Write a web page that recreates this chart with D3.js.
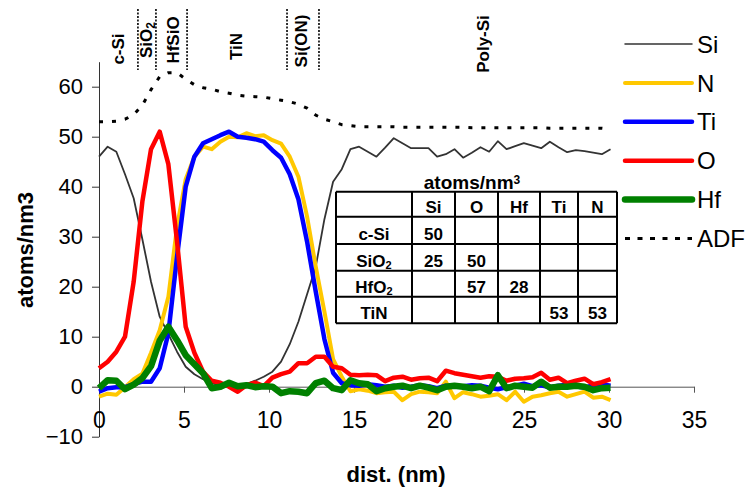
<!DOCTYPE html>
<html>
<head>
<meta charset="utf-8">
<script src="https://cdn.jsdelivr.net/npm/d3@7/dist/d3.min.js"></script>
<style>
  body { margin: 0; background: #fff; }
  text { font-family: "Liberation Sans", Arial, sans-serif; fill: #000; }
</style>
</head>
<body>
<script>
// depth profile across the gate stack
var dist = [0,0.51,1.02,1.53,2.04,2.55,3.06,3.57,4.08,4.59,5.1,5.61,6.12,6.63,7.14,7.65,8.16,8.67,9.18,9.69,
  10.2,10.71,11.22,11.73,12.24,12.75,13.26,13.77,14.28,14.79,15.3,15.81,16.32,16.83,17.34,17.85,18.36,18.87,19.38,19.89,
  20.4,20.91,21.42,21.93,22.44,22.95,23.46,23.97,24.48,24.99,25.5,26.01,26.52,27.03,27.54,28.05,28.56,29.07,29.58,30.09];

var siVals = [46,48,47,42.5,37.7,29.5,21,14,10.5,7, 4,2.5,1.5,0.7,0.2,0,0.3,0.5,1.2,2,
  3,5,8.5,13,18.5,24,33.5,41,43.5,47.5, 48,47,46,47.8,49.7,48.7,47.7,47.7,47.7,46,
  46.5,47.5,45.8,46.8,47.9,47,49.1,47.5,48.1,48.7, 48.2,47.7,49,47.9,46.9,47.3,47.1,46.8,46.5,47.5];

var nVals = [-2,-1.4,-1.6,-0.1,1.5,2.6,6.8,11.3,18,32, 41.5,46,48,47.5,49,50,49.9,50.7,50.1,50.3,
  49.3,48.6,46,42,34,24,15,5.5,2,-0.9, -0.5,-0.8,-1.3,-1.1,-1,-2.7,-1.5,-1,-1.1,-1.3,
  1,-2.3,-1.1,-1.5,-2,-1.8,-1.5,-2.7,-1,-3, -2,-1.7,-1.3,-1,-2,-1.5,-1,-2.2,-2,-2.7];

var tiVals = [-1,-0.3,-0.1,-0.1,0.5,1,1,3.7,10.7,26, 40,46,48.7,49.5,50.3,51,50,49.8,49.5,49,
  47.3,45.8,42.5,37.5,29,19,9.5,2.8,0.7,0.3, 0.2,0.5,0.3,0,0.2,-0.2,0,0.3,0.1,-0.3,
  0.2,0,0.1,0.3,0.2,-0.2,-0.5,-0.1,0.2,0.6, 0.1,0.3,-0.1,0.2,0.4,0.1,-0.2,0.3,0.5,0.2];

var oVals = [3.7,5,7,10,21,37,47.5,51,44.5,29, 12,6.8,3,1.2,0.8,0,-1,0.3,0.8,0.1,
  1.8,2.5,3,4.7,4.7,6,6,4,3.7,2.4, 2.3,2.4,2.3,1.1,1.8,2,1.4,1.7,1.8,1.1,
  3.2,2.7,2.4,2.1,1.8,2.1,2,1.2,1.6,1.7, 1.9,2.8,1.4,1.8,0.7,1.2,1.6,0.5,0.9,1.5];

var hfVals = [-0.3,1.3,1.2,-0.5,0.4,1.7,4.1,9.2,12,9.3, 6.3,4.5,2.7,-0.3,0,0.8,0.1,0.3,-0.1,0.1,
  0,-1.3,-0.9,-1,-1.3,0.7,1.2,-0.3,-0.7,1.3, 0.7,0.5,-0.9,-0.3,0,0.2,-0.3,0.2,-0.2,-0.7,
  0,0.2,0,-0.3,0,-0.9,2.3,-0.3,0.2,0, -0.2,1,-0.2,0,0,0.2,0,-0.7,-0.3,-0.2];

var adfVals = [53,53,53.1,53.5,54.4,56.3,59.4,62,62.8,62.8, 61.5,60.4,59.8,59.5,59,58.7,58.3,58.1,58,57.9,
  57.6,57.3,57,56.5,55.7,54.3,53.5,53,52.4,52.2, 52,52,52,52,52,51.9,51.9,51.9,51.9,51.9,
  51.9,51.9,51.9,51.8,51.8,51.8,51.8,51.8,51.8,51.8, 51.8,51.8,51.7,51.7,51.7,51.7,51.7,51.7,51.7,51.5];

var xTicks = [0,5,10,15,20,25,30,35];
var yTicks = [-10,0,10,20,30,40,50,60];

// layer names across the top, and the dotted boundaries (nm)
var layerNames = ["c-Si","SiO2","HfSiO","TiN","Si(ON)","Poly-Si"];
var layerPos = [1.1,2.75,4.35,8.05,11.9,22.6];
var layerEdges = [2.29,3.35,5.18,11.06,12.94];

// density table
var tableCols = ["Si","O","Hf","Ti","N"];
var tableRows = ["c-Si","SiO2","HfO2","TiN"];
var tableVals = [
  [50,null,null,null,null],
  [25,50,null,null,null],
  [null,57,28,null,null],
  [null,null,null,53,53]
];

var series = [
  {name: "Si", vals: siVals, color: "#333333", width: 1.8},
  {name: "N", vals: nVals, color: "#FFC800", width: 4},
  {name: "Ti", vals: tiVals, color: "#0000FF", width: 4.5},
  {name: "O", vals: oVals, color: "#FF0000", width: 4.5},
  {name: "Hf", vals: hfVals, color: "#008000", width: 6.5},
  {name: "ADF", vals: adfVals, color: "#000000", width: 3, dash: "4,9"}
];

var svgWidth = 747, svgHeight = 488;

var svg = d3.select("body").append("svg")
  .attr("width", svgWidth)
  .attr("height", svgHeight);

var x = d3.scaleLinear().domain([0, 35]).range([99, 694]);
var y = d3.scaleLinear().domain([-10, 65]).range([436.7, 61.7]);

// y axis
var yAxis = svg.append("g")
  .attr("transform", "translate(99,0)")
  .call(d3.axisLeft(y).tickValues(yTicks).tickSize(7).tickPadding(9).tickSizeOuter(0));
yAxis.select(".domain").attr("stroke", "#333");
yAxis.selectAll(".tick line").attr("stroke", "#333");
yAxis.selectAll("text").style("font-size", "22px").attr("fill", "#000");

// x axis crosses at 0
var xAxis = svg.append("g")
  .attr("transform", `translate(0,${y(0)})`)
  .call(d3.axisBottom(x).tickValues(xTicks).tickSize(6).tickPadding(19).tickSizeOuter(0));
xAxis.select(".domain").attr("stroke", "#555");
xAxis.selectAll(".tick line").attr("stroke", "#555");
xAxis.selectAll("text").style("font-size", "23px").attr("fill", "#000");

// axis titles
svg.append("text")
  .attr("transform", "translate(33,250) rotate(-90)")
  .attr("text-anchor", "middle")
  .style("font-size", "22px").style("font-weight", "bold")
  .text("atoms/nm3");
svg.append("text")
  .attr("x", 396).attr("y", 482)
  .attr("text-anchor", "middle")
  .style("font-size", "22px").style("font-weight", "bold")
  .text("dist. (nm)");

// curves
var line = d3.line()
  .x((d, i) => x(dist[i]))
  .y(d => y(d));

svg.append("g").selectAll("path")
  .data(series)
  .enter().append("path")
  .attr("d", d => line(d.vals))
  .attr("fill", "none")
  .attr("stroke", d => d.color)
  .attr("stroke-width", d => d.width)
  .attr("stroke-linejoin", "round")
  .attr("stroke-dasharray", d => d.dash || null);

// layer boundaries and names
svg.append("g").selectAll("line")
  .data(layerEdges)
  .enter().append("line")
  .attr("x1", d => x(d)).attr("x2", d => x(d))
  .attr("y1", 9).attr("y2", 70)
  .attr("stroke", "#000")
  .attr("stroke-width", 1.6)
  .attr("stroke-dasharray", "2,1.5");

var layerY = [49, 40, 40, 46.5, 41, 44];
layerNames.forEach(function(name, i) {
  var t = svg.append("text")
    .attr("transform", `translate(${x(layerPos[i])},${layerY[i]}) rotate(-90)`)
    .attr("text-anchor", "middle")
    .attr("dy", "0.36em")
    .style("font-size", "17px").style("font-weight", "bold");
  if (name === "SiO2") {
    t.append("tspan").text("SiO");
    t.append("tspan").attr("dy", "0.3em").style("font-size", "12px").text("2");
  } else {
    t.text(name);
  }
});

// legend
var legend = svg.append("g").selectAll("g")
  .data(series)
  .enter().append("g")
  .attr("transform", (d, i) => `translate(0,${44 + i * 38.9})`);
legend.append("line")
  .attr("x1", 625).attr("x2", 692)
  .attr("stroke", d => d.color)
  .attr("stroke-width", d => d.name === "Si" ? 1.5 : d.width)
  .attr("stroke-linecap", d => d.dash ? "butt" : "round")
  .attr("stroke-dasharray", d => d.dash ? "5,7.5" : null);
legend.append("text")
  .attr("x", 697).attr("dy", "0.36em")
  .style("font-size", "24px")
  .text(d => d.name);

// table of reference densities
var colEdges = [336, 412, 455, 498, 540, 578, 617];
var rowEdges = [191.7, 216.7, 244, 270.7, 296.7, 323.3];
var tbl = svg.append("g");
tbl.append("rect")
  .attr("x", colEdges[0]).attr("y", rowEdges[0])
  .attr("width", colEdges[6] - colEdges[0])
  .attr("height", rowEdges[5] - rowEdges[0])
  .attr("fill", "#fff");
rowEdges.forEach(function(ry) {
  tbl.append("line").attr("x1", colEdges[0]).attr("x2", colEdges[6])
    .attr("y1", ry).attr("y2", ry).attr("stroke", "#000").attr("stroke-width", 2);
});
colEdges.forEach(function(cx) {
  tbl.append("line").attr("x1", cx).attr("x2", cx)
    .attr("y1", rowEdges[0]).attr("y2", rowEdges[5]).attr("stroke", "#000").attr("stroke-width", 2);
});
var title = tbl.append("text")
  .attr("x", 472).attr("y", 189)
  .attr("text-anchor", "middle")
  .style("font-size", "19px").style("font-weight", "bold");
title.append("tspan").text("atoms/nm");
title.append("tspan").attr("dy", "-0.45em").style("font-size", "12px").text("3");

function cellText(cx, ry, label) {
  var t = tbl.append("text")
    .attr("x", cx).attr("y", ry)
    .attr("text-anchor", "middle")
    .style("font-size", "17px").style("font-weight", "bold");
  var m = /^(.*O)2$/.exec(label);
  if (m) {
    t.append("tspan").text(m[1]);
    t.append("tspan").attr("dy", "0.25em").style("font-size", "11px").text("2");
  } else {
    t.text(label);
  }
}
tableCols.forEach(function(c, j) {
  cellText((colEdges[j + 1] + colEdges[j + 2]) / 2, rowEdges[1] - 3.5, c);
});
tableRows.forEach(function(r, i) {
  var base = rowEdges[i + 2] - 4;
  cellText((colEdges[0] + colEdges[1]) / 2, base, r);
  tableVals[i].forEach(function(v, j) {
    if (v !== null) cellText((colEdges[j + 1] + colEdges[j + 2]) / 2, base, String(v));
  });
});
</script>
</body>
</html>
